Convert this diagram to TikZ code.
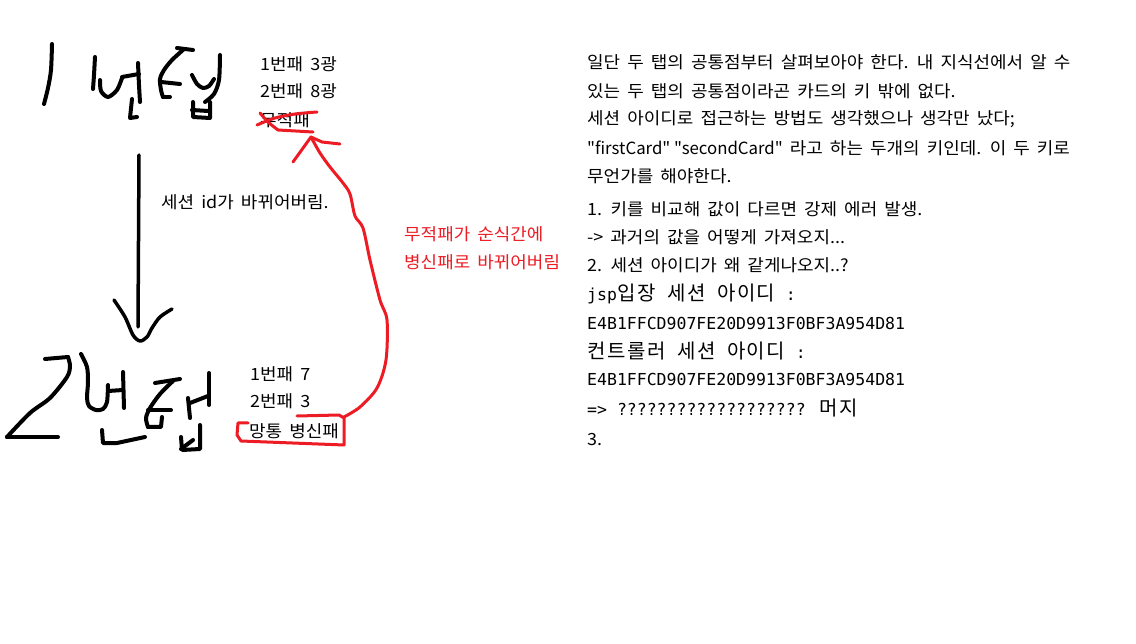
\documentclass[tikz,border=0pt]{standalone}
\usepackage{fontspec}
\setmainfont{Noto Sans CJK KR}[WordSpace=1.75,FakeStretch=1.07,Ligatures=TeXOff]
\newfontfamily\latn{Noto Sans CJK KR}[WordSpace=1.75,Ligatures=TeXOff]
\newfontfamily\monofont{DejaVu Sans Mono}[Ligatures=TeXOff]
\newfontfamily\cjkmono{Noto Sans CJK KR}
\definecolor{pred}{RGB}{237,28,36}
\newcommand\hm[1]{\makebox[19.88pt][c]{\cjkmono\fontsize{20}{20}\selectfont #1}}
\begin{document}
\begin{tikzpicture}[x=1pt,y=-1pt,
  txt/.style={anchor=base west,inner sep=0,font=\fontsize{16.8}{16.8}\selectfont},
  rtxt/.style={txt,text=pred},
  mono/.style={anchor=base west,inner sep=0,font=\monofont\fontsize{16.5}{16.5}\selectfont},
  hand/.style={line width=4pt,line cap=round,line join=round},
  rhand/.style={draw=pred,line width=3pt,line cap=round,line join=round}]
\useasboundingbox (0,0) rectangle (1136,644);
\fill[white] (0,0) rectangle (1136,644);

% ---------- right column ----------
\node[txt] (r1) at (587,68.5) {일단 두 탭의 공통점부터 살펴보아야 한다. 내 지식선에서 알 수};
\node[txt] (r2) at (587,97.5) {있는 두 탭의 공통점이라곤 카드의 키 밖에 없다.};
\node[txt] (r3) at (587,124.5) {세션 아이디로 접근하는 방법도 생각했으나 생각만 났다;};
\node[txt] (r4) at (587,154.5) {{\latn "firstCard" "secondCard"} 라고 하는 두개의 키인데. 이 두 키로};
\node[txt] (r5) at (587,183) {무언가를 해야한다.};
\node[txt] (r6) at (587,215.5) {1. 키를 비교해 값이 다르면 강제 에러 발생.};
\node[txt] (r7) at (587,244) {-> 과거의 값을 어떻게 가져오지...};
\node[txt] (r8) at (587,271.5) {2. 세션 아이디가 왜 같게나오지..?};
\node[mono] (r9) at (587,300.5) {jsp\hm{입}\hm{장} \hm{세}\hm{션} \hm{아}\hm{이}\hm{디} :};
\node[mono] (r10) at (587,329.5) {E4B1FFCD907FE20D9913F0BF3A954D81};
\node[mono] (r11) at (587,358.5) {\hm{컨}\hm{트}\hm{롤}\hm{러} \hm{세}\hm{션} \hm{아}\hm{이}\hm{디} :};
\node[mono] (r12) at (587,386) {E4B1FFCD907FE20D9913F0BF3A954D81};
\node[mono] (r13) at (587,415.5) {=> ??????????????????? \hm{머}\hm{지}};
\node[txt] (r14) at (587,446) {3.};

% ---------- left texts ----------
\node[txt] (a1) at (260,71) {1번패 3광};
\node[txt] (a2) at (260,98) {2번패 8광};
\node[txt] (a3) at (260,127) {무적패};
\node[txt] (mid) at (161,209) {세션 id가 바뀌어버림.};
\node[txt] (b1) at (250,381) {1번패 7};
\node[txt] (b2) at (250,408) {2번패 3};
\node[txt] (b3) at (249,438) {망통 병신패};
\node[rtxt] (c1) at (404,241) {무적패가 순식간에};
\node[rtxt] (c2) at (404,269) {병신패로 바뀌어버림};

% ---------- handwritten "1번탭" ----------
\draw[hand] plot[smooth] coordinates {(52,44) (51,70) (48,88) (44,104)};
\draw[hand] plot[smooth] coordinates {(95,57) (94,75) (93,89)};
\draw[hand] plot[smooth] coordinates {(100,80) (101,91) (108,97) (117,90) (122,78)};
\draw[hand] (122,77) -- (139,74);
\draw[hand] plot[smooth] coordinates {(138,63) (139,85) (140,102)};
\draw[hand] (132,99) -- (130,118) -- (137,117);
\draw[hand] (177,48) -- (193,50);
\draw[hand] plot[smooth] coordinates {(183,50) (172,60) (164,70) (160,79) (161,90) (163,97)};
\draw[hand] (163,97) -- (170,97);
\draw[hand] (161,82) -- (180,84);
\draw[hand] plot[smooth] coordinates {(192,75) (197,84) (203,88) (209,86) (214,79)};
\draw[hand] plot[smooth] coordinates {(220,55) (219,80) (214,94) (205,102)};
\draw[hand] (193,102) -- (193,117) -- (210,118) -- (210,102);
\draw[hand] (192,110) -- (208,111);

% ---------- handwritten "2번탭" ----------
\draw[hand] (45,359) -- (68,357);
\draw[hand] plot[smooth] coordinates {(68,357) (70,366) (67,377) (50,398) (30,413) (7,437)};
\draw[hand] (7,437) -- (58,437);
\draw[hand] plot[smooth] coordinates {(81,354) (87,367) (88,382) (87,398) (89,406) (96,410) (103,409) (107,402) (108,385)};
\draw[hand] (108,391) -- (123,390);
\draw[hand] (123,372) -- (124,408);
\draw[hand] (102,430) -- (103,443) -- (117,443) -- (145,437);
\draw[hand] (155,383) -- (180,379);
\draw[hand] plot[smooth] coordinates {(173,381) (160,394) (150,408) (146,418) (148,427)};
\draw[hand] (148,427) -- (161,427) -- (162,417);
\draw[hand] (148,410) -- (171,410);
\draw[hand] (188,398) -- (190,418);
\draw[hand] (190,403) -- (208,396);
\draw[hand] (209,373) -- (209,405);
\draw[hand] (181,437) -- (182,450) -- (200,449) -- (200,425);
\draw[hand] (181,449) -- (193,440);

% ---------- black arrow ----------
\coordinate (tab1) at (139,155);
\coordinate (tab2) at (138,327);
\draw[hand,line width=3.5pt] (tab1) -- (tab2);
\draw[hand,line width=3.5pt] plot[smooth] coordinates {(114,300) (125,317) (133,335) (140,341) (147,337) (152,328) (160,317) (172,309)};

% ---------- red marks ----------
\draw[rhand] plot[smooth] coordinates {(260,113) (268,122) (278,130)};
\draw[rhand] (278,130) -- (313,132);
\draw[rhand] plot[smooth] coordinates {(257,125) (275,118) (295,114) (317,112)};
\coordinate (boxc) at (344,417);
\coordinate (tip) at (311,137);
\draw[rhand] (248,423) -- (238,423) -- (237,435) -- (241,441) -- (344,445) -- (344,418) -- (339,415) -- (297,416);
\draw[rhand] plot[smooth] coordinates {(boxc) (360,407) (377,388) (386,360) (387,320) (380,300) (370,260) (363,228) (355,216) (350,194) (343,183) (330,167) (320,153) (tip)};
\draw[rhand] (293,162) -- (tip) -- (322,142) -- (340,144);
\end{tikzpicture}
\end{document}
